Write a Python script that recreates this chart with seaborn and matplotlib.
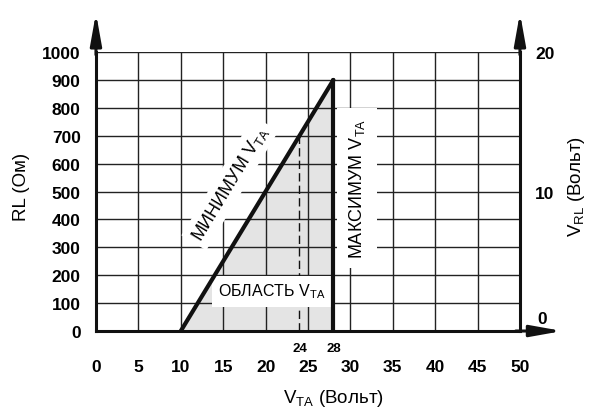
# RL vs V_TA operating area chart
import numpy as np
import matplotlib
matplotlib.use("Agg")
import matplotlib.pyplot as plt
import matplotlib.transforms as mtransforms
import seaborn as sns
import pandas as pd

sns.set_style("white")
plt.rcParams['font.family'] = ['Liberation Sans', 'DejaVu Sans']
plt.rcParams['mathtext.fontset'] = 'custom'
plt.rcParams['mathtext.rm'] = 'Liberation Sans'
plt.rcParams['text.color'] = 'black'
plt.rcParams['xtick.color'] = 'black'
plt.rcParams['ytick.color'] = 'black'
plt.rcParams['axes.labelcolor'] = 'black'

# data
x_ticks = [0, 5, 10, 15, 20, 25, 30, 35, 40, 45, 50]
y_ticks = [0, 100, 200, 300, 400, 500, 600, 700, 800, 900, 1000]
vrl_ticks = [0, 10, 20]
min_vta = [10, 28]          # minimum V_TA line
min_rl = [0, 900]
max_vta = [28, 28]          # maximum V_TA line
max_rl = [0, 900]
dash_vta = [24, 24]         # dashed marker at 24 V
dash_rl = [0, 700]
area_vta = [10, 28, 28]     # shaded region
area_rl = [0, 900, 0]
mark_vta = [24, 28]

df_min = pd.DataFrame({'vta': min_vta, 'rl': min_rl})
df_max = pd.DataFrame({'vta': max_vta, 'rl': max_rl})
df_dash = pd.DataFrame({'vta': dash_vta, 'rl': dash_rl})

fig = plt.figure(figsize=(5.95, 4.1), dpi=100)
ax = fig.add_axes([0.1613, 0.1902, 0.7126, 0.6805])

ax.fill(area_vta, area_rl, color='#e4e4e4', zorder=1, lw=0)
sns.lineplot(data=df_min, x='vta', y='rl', ax=ax, color='#111111', lw=3,
             estimator=None, sort=False, zorder=4)
sns.lineplot(data=df_max, x='vta', y='rl', ax=ax, color='#111111', lw=3,
             estimator=None, sort=False, zorder=4)
sns.lineplot(data=df_dash, x='vta', y='rl', ax=ax, color='#111111', lw=1,
             estimator=None, sort=False, linestyle=(0, (6, 3)), zorder=2)

ax.set_xlim(0, 50)
ax.set_ylim(0, 1000)
ax.set_xticks(x_ticks)
ax.set_yticks(y_ticks)
ax.set_axisbelow('line')
ax.grid(True, color='#222222', lw=1)
ax.set_xlabel('')
ax.set_ylabel('')
ax.tick_params(axis='both', length=0, labelsize=12.5)
ax.tick_params(axis='x', pad=20)
ax.tick_params(axis='y', pad=11)
for lab in ax.get_xticklabels() + ax.get_yticklabels():
    lab.set_fontweight('bold')

ax.spines['top'].set_visible(False)
for s in ['left', 'bottom', 'right']:
    ax.spines[s].set_linewidth(2.2)
    ax.spines[s].set_color('#111111')

# axis arrows
arrow = dict(arrowstyle='-|>,head_length=0.95,head_width=0.17', color='#111111',
             lw=2.2, mutation_scale=20, shrinkA=0, shrinkB=0)
ax.annotate('', xy=(0, 1140), xytext=(0, 990), arrowprops=arrow, annotation_clip=False)
ax.annotate('', xy=(50, 1140), xytext=(50, 990), arrowprops=arrow, annotation_clip=False)
ax.annotate('', xy=(55, 0), xytext=(49.5, 0), arrowprops=arrow, annotation_clip=False)

# right axis V_RL
ax2 = ax.twinx()
ax2.set_ylim(0, 20)
ax2.set_yticks(vrl_ticks)
ax2.tick_params(axis='y', length=0, labelsize=12.5, pad=11)
for s in ax2.spines.values():
    s.set_visible(False)
for lab in ax2.get_yticklabels():
    lab.set_fontweight('bold')
zero_lab = ax2.get_yticklabels()[0]
zero_lab.set_transform(zero_lab.get_transform() +
                       mtransforms.ScaledTranslation(0.02, 0.14, fig.dpi_scale_trans))

# small marks under the axis
for v in mark_vta:
    ax.text(v, -0.061, str(v), transform=ax.get_xaxis_transform(), ha='center',
            va='center', fontsize=9.5, fontweight='bold')

# annotations
ax.text(15.8, 530, 'МИНИМУМ V$_{\\mathregular{TA}}$', rotation=58.8, ha='center',
        va='center', fontsize=13, rotation_mode='anchor',
        bbox=dict(boxstyle='square,pad=0.25', fc='white', ec='none'), zorder=3)
ax.text(30.8, 512, 'МАКСИМУМ V$_{\\mathregular{TA}}$', rotation=90, ha='center',
        va='center', fontsize=13,
        bbox=dict(boxstyle='square,pad=0.55', fc='white', ec='none'), zorder=3)
ax.text(20.75, 143, 'ОБЛАСТЬ V$_{\\mathregular{TA}}$', ha='center', va='center',
        fontsize=11.5, bbox=dict(boxstyle='square,pad=0.38', fc='white', ec='none'), zorder=3)

# axis titles
ax.text(0.56, -0.24, 'V$_{\\mathregular{TA}}$ (Вольт)', transform=ax.transAxes,
        ha='center', va='center', fontsize=13.5)
ax.text(-0.175, 0.52, 'RL (Ом)', transform=ax.transAxes, rotation=90,
        ha='center', va='center', fontsize=13.5)
ax.text(1.134, 0.52, 'V$_{\\mathregular{RL}}$ (Вольт)', transform=ax.transAxes, rotation=90,
        ha='center', va='center', fontsize=13.5)

fig.savefig('out.png', dpi=100)
